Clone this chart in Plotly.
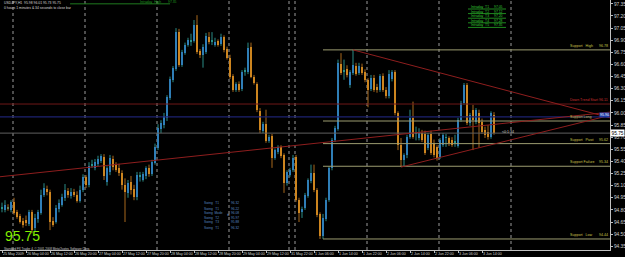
import plotly.graph_objects as go

# ---------------- data (USDJPY H1, bar index 0 = 25 May 2009 20:00) ----------------
bars = list(range(165))
opens = [94.82, 94.80, 94.84, 94.80, 94.90, 94.77, 94.72, 94.66, 94.67, 94.63,
         94.77, 94.58, 94.69, 94.76, 94.98, 95.06, 95.02, 94.66, 94.65, 94.81,
         94.86, 94.95, 95.03, 94.97, 95.02, 94.99, 94.91, 95.05, 95.21, 95.11,
         95.35, 95.32, 95.37, 95.40, 95.45, 95.15, 95.27, 95.43, 95.36, 95.32,
         95.26, 95.11, 95.01, 95.15, 95.06, 94.96, 95.21, 95.17, 95.22, 95.32,
         95.24, 95.38, 95.57, 95.80, 95.85, 95.94, 96.18, 96.41, 96.54, 97.00,
         96.59, 96.74, 96.84, 96.89, 96.89, 97.09, 96.77, 96.72, 96.75, 96.94,
         96.88, 96.84, 96.89, 96.85, 96.94, 96.79, 96.68, 96.46, 96.28, 96.36,
         96.30, 96.51, 96.51, 96.82, 96.45, 96.36, 96.02, 95.78, 95.86, 95.65,
         95.71, 95.44, 95.52, 95.58, 95.48, 95.13, 95.23, 95.29, 95.45, 94.92,
         94.77, 94.82, 94.97, 95.16, 95.26, 95.05, 94.75, 94.48, 94.69, 94.92,
         95.32, 95.67, 95.80, 96.61, 96.51, 96.54, 96.35, 96.49, 96.58, 96.49,
         96.57, 96.51, 96.41, 96.30, 96.43, 96.32, 96.28, 96.46, 96.28, 96.21,
         96.42, 96.51, 96.00, 95.60, 95.42, 95.48, 95.70, 95.94, 95.75, 95.69,
         95.75, 95.74, 95.57, 95.74, 95.63, 95.58, 95.45, 95.60, 95.69, 95.69,
         95.67, 95.64, 95.59, 95.91, 96.12, 96.35, 95.88, 96.04, 95.89, 96.00,
         95.89, 95.79, 95.76, 95.70, 95.98]
highs = [94.89, 94.92, 94.87, 94.92, 94.95, 94.80, 94.75, 94.70, 94.73, 94.80,
         94.80, 94.75, 94.80, 95.05, 95.13, 95.10, 95.05, 94.71, 94.86, 94.93,
         95.00, 95.12, 95.07, 95.07, 95.06, 95.03, 95.10, 95.24, 95.23, 95.39,
         95.42, 95.43, 95.47, 95.49, 95.49, 95.34, 95.48, 95.47, 95.39, 95.37,
         95.29, 95.19, 95.17, 95.22, 95.11, 95.27, 95.27, 95.27, 95.34, 95.36,
         95.42, 95.62, 95.86, 95.91, 96.00, 96.22, 96.45, 96.58, 97.05, 97.04,
         96.78, 96.87, 96.93, 96.98, 97.15, 97.21, 96.79, 96.85, 96.99, 97.00,
         97.00, 96.93, 96.91, 96.98, 96.96, 96.82, 96.72, 96.48, 96.38, 96.39,
         96.53, 96.56, 96.87, 96.87, 96.47, 96.38, 96.06, 95.89, 96.04, 95.73,
         95.74, 95.56, 95.60, 95.60, 95.50, 95.29, 95.32, 95.48, 95.48, 94.95,
         94.84, 95.01, 95.19, 95.36, 95.36, 95.07, 94.77, 94.75, 94.95, 95.34,
         95.69, 95.84, 96.66, 96.74, 96.66, 96.59, 96.53, 96.78, 96.62, 96.62,
         96.61, 96.54, 96.43, 96.47, 96.47, 96.36, 96.48, 96.49, 96.32, 96.53,
         96.53, 96.53, 96.02, 95.69, 95.50, 95.73, 96.04, 96.14, 95.83, 95.81,
         95.79, 95.78, 95.75, 95.78, 95.67, 95.60, 95.69, 95.75, 95.74, 95.71,
         95.70, 95.73, 95.94, 96.15, 96.37, 96.37, 96.00, 96.10, 96.06, 96.04,
         95.93, 95.83, 95.85, 96.02, 96.01]
lows = [94.77, 94.77, 94.79, 94.77, 94.74, 94.69, 94.63, 94.58, 94.60, 94.60,
        94.51, 94.54, 94.64, 94.74, 94.96, 94.98, 94.55, 94.59, 94.63, 94.77,
        94.84, 94.91, 94.95, 94.94, 94.96, 94.89, 94.89, 95.02, 95.07, 95.08,
        95.32, 95.29, 95.34, 95.38, 95.17, 95.10, 95.23, 95.29, 95.27, 95.22,
        95.05, 94.65, 94.95, 94.99, 94.92, 94.92, 95.15, 95.15, 95.18, 95.21,
        95.22, 95.36, 95.54, 95.75, 95.81, 95.90, 96.16, 96.38, 96.52, 96.57,
        96.57, 96.72, 96.82, 96.83, 96.87, 96.73, 96.68, 96.56, 96.73, 96.85,
        96.84, 96.82, 96.82, 96.83, 96.75, 96.66, 96.42, 96.26, 96.26, 96.26,
        96.27, 96.46, 96.48, 96.43, 96.35, 96.01, 95.75, 95.75, 95.63, 95.63,
        95.32, 95.42, 95.49, 95.44, 95.01, 95.10, 95.21, 95.27, 94.90, 94.65,
        94.70, 94.80, 94.95, 95.13, 95.02, 94.71, 94.44, 94.44, 94.66, 94.90,
        95.29, 95.64, 95.78, 96.47, 96.41, 96.44, 96.31, 96.47, 96.46, 96.47,
        96.47, 96.38, 96.07, 96.27, 96.26, 96.25, 96.26, 96.26, 96.18, 96.18,
        96.39, 95.97, 95.54, 95.33, 95.34, 95.44, 95.68, 95.68, 95.66, 95.66,
        95.64, 95.48, 95.54, 95.48, 95.45, 95.41, 95.43, 95.58, 95.58, 95.59,
        95.58, 95.58, 95.57, 95.89, 96.10, 95.85, 95.84, 95.54, 95.86, 95.57,
        95.74, 95.69, 95.67, 95.68, 95.73]
closes = [94.84, 94.86, 94.82, 94.90, 94.76, 94.71, 94.65, 94.61, 94.64, 94.77,
          94.55, 94.70, 94.77, 94.99, 95.07, 95.02, 94.65, 94.61, 94.82, 94.89,
          94.96, 95.05, 94.98, 95.02, 94.98, 94.91, 95.05, 95.21, 95.11, 95.34,
          95.37, 95.39, 95.43, 95.47, 95.22, 95.32, 95.44, 95.33, 95.29, 95.26,
          95.11, 95.02, 95.13, 95.05, 94.96, 95.23, 95.22, 95.24, 95.32, 95.24,
          95.39, 95.58, 95.81, 95.88, 95.96, 96.20, 96.42, 96.56, 97.00, 96.59,
          96.75, 96.84, 96.90, 96.90, 97.09, 96.75, 96.72, 96.82, 96.95, 96.88,
          96.89, 96.88, 96.84, 96.94, 96.78, 96.68, 96.45, 96.28, 96.36, 96.28,
          96.51, 96.52, 96.80, 96.45, 96.37, 96.04, 95.79, 95.86, 95.65, 95.70,
          95.44, 95.54, 95.58, 95.47, 95.13, 95.27, 95.29, 95.44, 94.92, 94.76,
          94.81, 94.98, 95.17, 95.26, 95.05, 94.74, 94.48, 94.70, 94.92, 95.32,
          95.67, 95.81, 96.62, 96.49, 96.52, 96.47, 96.51, 96.59, 96.48, 96.58,
          96.49, 96.41, 96.28, 96.43, 96.28, 96.28, 96.46, 96.28, 96.21, 96.48,
          96.51, 96.00, 95.60, 95.42, 95.48, 95.70, 95.94, 95.70, 95.76, 95.76,
          95.67, 95.50, 95.73, 95.50, 95.48, 95.44, 95.67, 95.73, 95.70, 95.63,
          95.60, 95.65, 95.91, 96.12, 96.35, 95.88, 95.97, 95.91, 96.04, 95.88,
          95.76, 95.73, 95.70, 96.00, 95.75]

tick_bars = [0, 8, 16, 24, 32, 40, 48, 56, 64, 72, 80, 88, 96, 104, 112, 120, 128, 136, 144, 152, 160]
tick_text = ["25 May 2009", "26 May 04:00", "26 May 12:00", "26 May 20:00", "27 May 04:00",
             "27 May 12:00", "27 May 20:00", "28 May 04:00", "28 May 12:00", "28 May 20:00",
             "29 May 04:00", "29 May 12:00", "31 May 22:00", "1 Jun 06:00", "1 Jun 14:00",
             "1 Jun 22:00", "2 Jun 06:00", "2 Jun 14:00", "2 Jun 22:00", "3 Jun 06:00", "3 Jun 14:00"]
price_ticks = [97.35, 97.20, 97.05, 96.90, 96.75, 96.60, 96.45, 96.30, 96.15, 96.00, 95.85,
               95.70, 95.55, 95.40, 95.25, 95.10, 94.95, 94.80, 94.65, 94.50, 94.35]
day_separators = [4, 28, 52, 76, 96, 98, 122, 146, 170]

level_names = ["Support   High", "Support Long", "Support   Pivot", "Support Failure", "Support   Low"]
level_prices = [96.78, 95.90, 95.62, 95.34, 94.44]
level_start_bar = 107
downtrend_start = 96.11
blue_level = 95.95
bid_price = 95.75

trend_x0 = [117, 133, -0.67]
trend_y0 = [96.78, 95.33, 95.21]
trend_x1 = [202.67, 202.67, 202.67]
trend_y1 = [95.94, 95.97, 96.01]

green_level = 97.35
green_x0, green_x1 = 22.7, 56
intraday_labels = ["Intraday  T1", "Intraday  T2", "Intraday  T3", "Intraday  T4", "Intraday  T5"]
intraday_values = ["97.05", "97.12", "97.20", "97.28", "97.35"]
swing_labels = ["Swing   T1", "Swing   T1", "Swing  Mode", "Swing   T2", "Swing   T3", "Swing   T1"]
swing_values = ["96.32", "96.22", "96.08", "95.97", "95.88", "96.32"]

# ---------------- geometry helpers (pixel layout of the screenshot) ----------------
W, H = 625, 257
PW, PH = 610, 250
X_RANGE = [-2 / 3, 608 / 3]
Y_RANGE = [94.3035, 97.3975]


def px(xp):
    return xp / PW


def py(yp):
    return 1 - yp / PH


UP_BODY, DN_BODY = "#3470e8", "#f2a222"
UP_WICK, DN_WICK = "#2a8c86", "#a8681c"
DOJI = "#2a9c90"

fig = go.Figure()

# wicks
for is_up, col in ((True, UP_WICK), (False, DN_WICK)):
    xs, ys = [], []
    for i, o, h, l, c in zip(bars, opens, highs, lows, closes):
        if (c >= o) == is_up:
            xs += [i, i, None]
            ys += [l, h, None]
    fig.add_trace(go.Scatter(x=xs, y=ys, mode="lines", line=dict(color=col, width=1),
                             hoverinfo="skip", showlegend=False))

# bodies
bases, heights, cols = [], [], []
for o, c in zip(opens, closes):
    bases.append(min(o, c))
    heights.append(max(abs(c - o), 0.012))
    if abs(c - o) <= 0.021:
        cols.append(DOJI)
    else:
        cols.append(UP_BODY if c > o else DN_BODY)
fig.add_trace(go.Bar(x=bars, y=heights, base=bases, width=0.68,
                     marker=dict(color=cols, line=dict(width=0)), showlegend=False,
                     hoverinfo="skip"))

shapes = []
# day separators
for s in day_separators:
    shapes.append(dict(type="line", xref="x", yref="paper", x0=s - 0.33, x1=s - 0.33, y0=0, y1=1,
                       line=dict(color="#9a9a9a", width=1, dash="dot"), layer="below"))
# full-width horizontal levels
shapes.append(dict(type="line", xref="paper", yref="y", x0=0, x1=1, y0=downtrend_start, y1=downtrend_start,
                   line=dict(color="#6e1818", width=1)))
shapes.append(dict(type="line", xref="paper", yref="y", x0=0, x1=1, y0=blue_level, y1=blue_level,
                   line=dict(color="#1c2270", width=1.3)))
shapes.append(dict(type="line", xref="paper", yref="y", x0=0, x1=1, y0=bid_price, y1=bid_price,
                   line=dict(color="#606060", width=1)))
# support levels
for p in level_prices:
    shapes.append(dict(type="line", xref="x", yref="y", x0=level_start_bar, x1=X_RANGE[1], y0=p, y1=p,
                       line=dict(color="#9c9c70", width=1)))
# trend lines
for a, b, c_, d in zip(trend_x0, trend_y0, trend_x1, trend_y1):
    shapes.append(dict(type="line", xref="x", yref="y", x0=a, y0=b, x1=c_, y1=d,
                       line=dict(color="#8e1e1e", width=1)))
# green top level
shapes.append(dict(type="line", xref="x", yref="y", x0=green_x0, x1=green_x1, y0=green_level, y1=green_level,
                   line=dict(color="#1f7a1f", width=1)))
# intraday box rows
for k in range(len(intraday_labels)):
    yy = 9 + 4.6 * k
    shapes.append(dict(type="line", xref="paper", yref="paper", x0=px(468), x1=px(506), y0=py(yy), y1=py(yy),
                       line=dict(color="#1f8a1f", width=1)))

ann = []
FONT = "Liberation Sans"


def txt(x, y, s, size=3.6, color="#d8d8d8", xanchor="left", yanchor="middle", xref="paper", yref="paper", **kw):
    ann.append(dict(x=x, y=y, xref=xref, yref=yref, text=s, showarrow=False, xanchor=xanchor, yanchor=yanchor,
                    font=dict(family=FONT, size=size, color=color), **kw))


# support labels
for n, p in zip(level_names, level_prices):
    txt(188.7, p, n, size=3.6, color="#c8c44a", xref="x", yref="y", yanchor="bottom")
    if n == "Support Long":
        txt(202.5, p, f"{p:.2f}", size=3.6, color="#ffffff", xanchor="right", xref="x", yref="y",
            yanchor="bottom", yshift=3, bgcolor="#1f3aa8", borderpad=0)
    else:
        txt(202.5, p, f"{p:.2f}", size=3.6, color="#c8c44a", xanchor="right", xref="x", yref="y", yanchor="bottom")
txt(202.5, downtrend_start, f"Down Trend Start {downtrend_start:.2f}", size=3.6, color="#c83030",
    xanchor="right", xref="x", yref="y", yanchor="bottom")

# current price box on the axis
txt(1.0, bid_price, f"{bid_price:.2f}", size=4.8, color="#000000", xref="paper", yref="y",
    bgcolor="#ffffff", borderpad=0.5)
# time-to-close near last bar
txt(166, closes[-1] + 0.02, "<0:1:34", size=3.6, color="#d0d0d0", xref="x", yref="y")

# header text
txt(px(2), py(3), f"USDJPY,H1  {opens[-1]:.2f} {highs[-1]:.2f} {lows[-1]:.2f} {closes[-1]:.2f}", size=3.4)
txt(px(2), py(7.5), "0 hours 1 minutes &amp; 34 seconds to close bar", size=3.4)

# green top label
txt(px(138), py(1.8), "Intraday  High", size=3.4, color="#1f9a1f")
txt(px(166), py(1.8), f"{green_level:.2f}", size=3.4, color="#1f9a1f")
# intraday box
for k, (l_, v_) in enumerate(zip(intraday_labels, intraday_values)):
    yy = 7 + 4.6 * k
    txt(px(469), py(yy), l_, size=3.4, color="#33cc33")
    txt(px(505), py(yy), v_, size=3.4, color="#33cc33", xanchor="right")

# swing box
for k, (l_, v_, yy) in enumerate(zip(swing_labels, swing_values, [203, 208.5, 213, 217.5, 222, 227.5])):
    txt(px(202), py(yy), l_, size=3.2, color="#5a88c0")
    txt(px(241), py(yy), v_, size=3.2, color="#5a88c0", xanchor="right")
txt(px(225), py(214), "»", size=5, color="#a0b8d8")

# big price and copyright
txt(px(3), py(246.3), f"{closes[-1]:.2f}", size=14, color="#84f000", yanchor="bottom")
txt(px(2), py(248.6), "Standard FX Trader 4, © 2001-2008 MetaQuotes Software Corp.", size=3.0, color="#d0d0d0")

fig.update_layout(
    width=W, height=H, margin=dict(l=0, r=W - PW, t=0, b=H - PH, autoexpand=False),
    paper_bgcolor="#000000", plot_bgcolor="#000000",
    barmode="overlay", bargap=0, showlegend=False,
    shapes=shapes, annotations=ann,
    xaxis=dict(range=X_RANGE, tickmode="array", tickvals=tick_bars, ticktext=tick_text, tickangle=0,
               automargin=False,
               ticklabelposition="outside right", ticks="outside", ticklen=2, tickcolor="#c0c0c0",
               tickfont=dict(family=FONT, size=3.6, color="#d0d0d0"), showgrid=False, zeroline=False,
               showline=True, linecolor="#c0c0c0", linewidth=1, mirror=True, fixedrange=True),
    yaxis=dict(range=Y_RANGE, side="right", tickmode="array", tickvals=price_ticks, automargin=False,
               ticktext=[f"{v:.2f}" for v in price_ticks], ticks="outside", ticklen=2, tickcolor="#c0c0c0",
               tickfont=dict(family=FONT, size=4.8, color="#d0d0d0"), showgrid=False, zeroline=False,
               showline=True, linecolor="#c0c0c0", linewidth=1, mirror=True, fixedrange=True),
)

fig.write_html("out.html")
